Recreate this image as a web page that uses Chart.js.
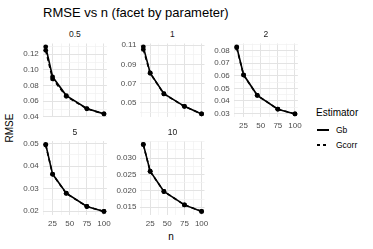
<!DOCTYPE html>
<html>
<head>
<meta charset="utf-8">
<script src="https://cdn.jsdelivr.net/npm/chart.js@4/dist/chart.umd.min.js"></script>
<style>
  body { margin: 0; width: 373px; height: 249px; background: #fff; position: relative; overflow: hidden;
         font-family: "Liberation Sans", Arial, sans-serif; }
  .txt { position: absolute; white-space: nowrap; line-height: 1; }
  .mid { transform: translate(-50%, -50%); }
  canvas { position: absolute; }
</style>
</head>
<body>
<div class="txt" style="left:43px;top:6px;font-size:13px;color:#000">RMSE vs n (facet by parameter)</div>
<div class="txt mid" style="left:171px;top:237px;font-size:10px;color:#000">n</div>
<div class="txt mid" style="left:10px;top:128px;font-size:10px;color:#000;transform:translate(-50%,-50%) rotate(-90deg)">RMSE</div>

<div class="txt" style="left:316px;top:108px;font-size:10px;color:#000">Estimator</div>
<div style="position:absolute;left:317px;top:129px;width:12px;height:2px;background:#000"></div>
<div class="txt" style="left:336px;top:126px;font-size:8.5px;color:#000">Gb</div>
<div style="position:absolute;left:317px;top:144px;width:12px;height:2px;background:repeating-linear-gradient(90deg,#000 0 3px,transparent 3px 6px)"></div>
<div class="txt" style="left:336px;top:141px;font-size:8.5px;color:#000">Gcorr</div>

<script>
// sample sizes on the x axis
const sampleSizes = [15, 25, 45, 75, 100];
const xTicks = [25, 50, 75, 100];

// RMSE per parameter value (facet), two estimators
const gb05    = [0.1295, 0.0912, 0.0672, 0.0506, 0.0438];
const gcorr05 = [0.1250, 0.0885, 0.0662, 0.0503, 0.0437];
const gb1     = [0.1082, 0.0812, 0.0595, 0.0464, 0.0385];
const gcorr1  = [0.1055, 0.0808, 0.0593, 0.0463, 0.0385];
const gb2     = [0.0830, 0.0608, 0.0445, 0.0335, 0.0297];
const gcorr2  = [0.0822, 0.0606, 0.0444, 0.0335, 0.0297];
const gb5     = [0.0497, 0.0365, 0.0280, 0.0221, 0.0199];
const gcorr5  = [0.0494, 0.0364, 0.0279, 0.0221, 0.0199];
const gb10    = [0.0342, 0.0260, 0.0198, 0.0157, 0.0137];
const gcorr10 = [0.0341, 0.0259, 0.0198, 0.0157, 0.0137];

// y tick labels per facet
const yTicks05 = [0.04, 0.06, 0.08, 0.10, 0.12];
const yTicks1  = [0.05, 0.07, 0.09, 0.11];
const yTicks2  = [0.03, 0.04, 0.05, 0.06, 0.07, 0.08];
const yTicks5  = [0.02, 0.03, 0.04, 0.05];
const yTicks10 = [0.015, 0.020, 0.025, 0.030];

const panels = [
  { label: '0.5', gb: gb05, gcorr: gcorr05, yTicks: yTicks05, col: 0, row: 0, showX: false },
  { label: '1',   gb: gb1,  gcorr: gcorr1,  yTicks: yTicks1,  col: 1, row: 0, showX: false },
  { label: '2',   gb: gb2,  gcorr: gcorr2,  yTicks: yTicks2,  col: 2, row: 0, showX: true },
  { label: '5',   gb: gb5,  gcorr: gcorr5,  yTicks: yTicks5,  col: 0, row: 1, showX: true },
  { label: '10',  gb: gb10, gcorr: gcorr10, yTicks: yTicks10, col: 1, row: 1, showX: true }
];

const colLeft = [42.8, 140.4, 233.8];
const rowTop = [43.5, 141];
const stripY = [34.3, 131.7];
const plotW = 64.1, plotH = 73.8;
const FONT = '"Liberation Sans", Arial, sans-serif';
const GRID_MAJOR = '#e3e3e3', GRID_MINOR = '#f1f1f1';

// ggplot-like 5% expansion
function expand(lo, hi) {
  const pad = (hi - lo) * 0.05;
  return [lo - pad, hi + pad];
}

// majors plus midpoints (also one step beyond the ends, if inside limits)
function withMinor(major, lo, hi) {
  const step = major[1] - major[0];
  const ext = [major[0] - step, ...major, major[major.length - 1] + step];
  const out = [];
  for (let i = 0; i < ext.length; i++) {
    out.push(ext[i]);
    if (i < ext.length - 1) out.push(ext[i] + step / 2);
  }
  return out.filter(v => v >= lo - 1e-9 && v <= hi + 1e-9);
}

function isMajor(v, major) {
  return major.some(m => Math.abs(m - v) < 1e-9);
}

const [xMin, xMax] = expand(Math.min(...sampleSizes), Math.max(...sampleSizes));
const xAll = withMinor(xTicks, xMin, xMax);

panels.forEach(p => {
  const left = colLeft[p.col], top = rowTop[p.row];
  const cLeft = Math.floor(left - 40), cTop = Math.floor(top - 8);
  const axW = left - cLeft, padT = top - cTop;
  const cW = Math.ceil(axW + plotW + 10), cH = Math.ceil(padT + plotH + 16);
  const padR = cW - axW - plotW, xH = cH - padT - plotH;

  const strip = document.createElement('div');
  strip.className = 'txt mid';
  strip.style.cssText = `left:${left + plotW / 2}px;top:${stripY[p.row]}px;font-size:8.5px;color:#1a1a1a`;
  strip.textContent = p.label;
  document.body.appendChild(strip);

  const canvas = document.createElement('canvas');
  canvas.width = cW; canvas.height = cH;
  canvas.style.left = cLeft + 'px'; canvas.style.top = cTop + 'px';
  document.body.appendChild(canvas);

  const all = p.gb.concat(p.gcorr);
  const [yMin, yMax] = expand(Math.min(...all), Math.max(...all));
  const yAll = withMinor(p.yTicks, yMin, yMax);
  const decimals = Math.max(...p.yTicks.map(v => (String(v).split('.')[1] || '').length));

  new Chart(canvas.getContext('2d'), {
    type: 'line',
    data: {
      datasets: [
        { label: 'Gb', data: sampleSizes.map((n, i) => ({ x: n, y: p.gb[i] })),
          borderColor: '#000', borderWidth: 1.6, pointRadius: 2.4, pointBackgroundColor: '#000', pointBorderWidth: 0 },
        { label: 'Gcorr', data: sampleSizes.map((n, i) => ({ x: n, y: p.gcorr[i] })),
          borderColor: '#000', borderWidth: 1.6, borderDash: [4, 3], pointRadius: 2.4, pointBackgroundColor: '#000', pointBorderWidth: 0 }
      ]
    },
    options: {
      responsive: false,
      animation: false,
      layout: { padding: { top: padT, right: padR, left: 0, bottom: 0 } },
      plugins: { legend: { display: false }, tooltip: { enabled: false } },
      scales: {
        x: {
          type: 'linear', min: xMin, max: xMax,
          afterBuildTicks: a => { a.ticks = xAll.map(v => ({ value: v })); },
          afterFit: s => { s.height = xH; s.paddingLeft = 0; s.paddingRight = 0; },
          border: { display: false },
          grid: { drawTicks: false,
                  color: c => isMajor(c.tick.value, xTicks) ? GRID_MAJOR : GRID_MINOR,
                  lineWidth: c => isMajor(c.tick.value, xTicks) ? 1 : 0.7 },
          ticks: { display: p.showX, autoSkip: false, maxRotation: 0, padding: 4, color: '#4d4d4d',
                   font: { size: 8, family: FONT },
                   callback: v => isMajor(v, xTicks) ? String(v) : '' }
        },
        y: {
          type: 'linear', min: yMin, max: yMax,
          afterBuildTicks: a => { a.ticks = yAll.map(v => ({ value: v })); },
          afterFit: s => { s.width = axW; s.paddingTop = 0; s.paddingBottom = 0; },
          border: { display: false },
          grid: { drawTicks: false,
                  color: c => isMajor(c.tick.value, p.yTicks) ? GRID_MAJOR : GRID_MINOR,
                  lineWidth: c => isMajor(c.tick.value, p.yTicks) ? 1 : 0.7 },
          ticks: { autoSkip: false, padding: 4, color: '#4d4d4d', font: { size: 8, family: FONT },
                   callback: v => isMajor(v, p.yTicks) ? v.toFixed(decimals) : '' }
        }
      }
    }
  });
});
</script>
</body>
</html>
